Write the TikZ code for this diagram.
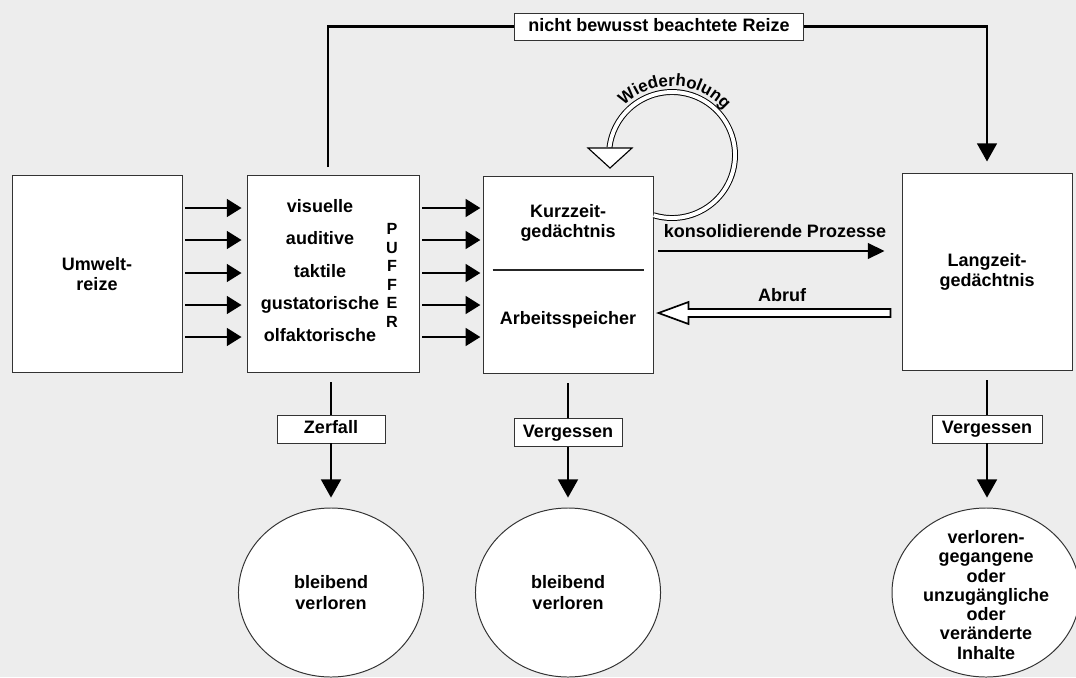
\documentclass[tikz,border=0pt]{standalone}
\usepackage{fontspec}
\setmainfont{Liberation Sans}
\usepackage{tikz}
\usetikzlibrary{arrows.meta,calc,shapes.geometric,decorations.text}

\newcommand\schrift{\bfseries\fontsize{12.8}{14.5}\selectfont}

\tikzset{
  kasten/.style={draw=black!80, line width=0.7pt, fill=white, inner sep=0pt, align=center, font=\schrift},
  marke/.style={draw=black!80, line width=0.7pt, fill=white, inner sep=0pt, text height=9.2pt, text depth=2.7pt, font=\schrift},
  wort/.style={inner sep=0pt, text height=9.2pt, text depth=2.7pt, font=\schrift},
  topf/.style={draw=black!80, line width=0.7pt, fill=white, ellipse, inner sep=0pt, align=center, font=\schrift, minimum width=131.6pt, minimum height=120.2pt},
  pfeil/.style={line width=2pt, -{Triangle[length=10.5pt, width=12.5pt]}},
  dickpfeil/.style={line width=2pt, -{Triangle[length=13pt, width=14pt]}},
  strich/.style={line width=2pt},
}

\begin{document}
\begin{tikzpicture}[x=0.025cm, y=-0.025cm]
  \fill[black!7] (0, 0) rectangle (1076, 677);
  \useasboundingbox (0, 0) rectangle (1076, 677);

  % Kaesten
  \node (umwelt) at (97, 274) [kasten, minimum width=120.9pt, minimum height=139.4pt] {Umwelt-\\reize};
  \node (puffer) at (333, 273.5) [kasten, minimum width=122.3pt, minimum height=140.1pt] {};
  \node (kzg) at (568, 274.5) [kasten, minimum width=120.9pt, minimum height=140.1pt] {};
  \node (lzg) at (987, 272) [kasten, minimum width=120.9pt, minimum height=139.4pt] {Langzeit-\\gedächtnis};

  \node (visuell) at (320, 208) [wort] {visuelle};
  \node (auditiv) at (320, 240) [wort] {auditive};
  \node (taktil) at (320, 273) [wort] {taktile};
  \node (gustatorisch) at (320, 305) [wort] {gustatorische};
  \node (olfaktorisch) at (320, 337) [wort] {olfaktorische};
  \node (pufferwort) at (392, 275.5) [align=center, inner sep=0pt, font=\bfseries\fontsize{11.5}{13.2}\selectfont] {P\\U\\F\\F\\E\\R};

  \node (kurzzeit) at (568, 223) [align=center, inner sep=0pt, font=\schrift] {Kurzzeit-\\gedächtnis};
  \node (arbeit) at (568, 320) [wort] {Arbeitsspeicher};
  \draw[line width=0.8pt, black!85] ($(kzg.west |- 0,270)+(10,0)$) -- ($(kzg.east |- 0,270)+(-10,0)$);

  \node (reize) at (659, 26.5) [marke, minimum width=204.9pt, minimum height=19.2pt] {nicht bewusst beachtete Reize};
  \node (zerfall) at (331, 429) [marke, minimum width=76.8pt, minimum height=19.9pt] {Zerfall};
  \node (vergessen1) at (568, 432.5) [marke, minimum width=76.8pt, minimum height=20.6pt] {Vergessen};
  \node (vergessen2) at (987, 429) [marke, minimum width=78.2pt, minimum height=19.9pt] {Vergessen};

  \node (verloren1) at (331, 592.5) [topf] {bleibend\\verloren};
  \node (verloren2) at (568, 592.5) [topf] {bleibend\\verloren};
  \node (verloren3) at (986, 592.5) [topf, minimum width=133.7pt] {};
  \node (inhalte) at (986, 595) [align=center, inner sep=0pt, font=\bfseries\fontsize{12.8}{13.7}\selectfont] {verloren-\\gegangene\\oder\\unzugängliche\\oder\\veränderte\\Inhalte};

  % Sinneskanaele
  \draw[pfeil, shorten <=2pt, shorten >=3.5pt] (umwelt.east |- visuell) -- (puffer.west |- visuell);
  \draw[pfeil, shorten <=2pt, shorten >=3.5pt] (umwelt.east |- auditiv) -- (puffer.west |- auditiv);
  \draw[pfeil, shorten <=2pt, shorten >=3.5pt] (umwelt.east |- taktil) -- (puffer.west |- taktil);
  \draw[pfeil, shorten <=2pt, shorten >=3.5pt] (umwelt.east |- gustatorisch) -- (puffer.west |- gustatorisch);
  \draw[pfeil, shorten <=2pt, shorten >=3.5pt] (umwelt.east |- olfaktorisch) -- (puffer.west |- olfaktorisch);
  \draw[pfeil, shorten <=2pt, shorten >=1.5pt] (puffer.east |- visuell) -- (kzg.west |- visuell);
  \draw[pfeil, shorten <=2pt, shorten >=1.5pt] (puffer.east |- auditiv) -- (kzg.west |- auditiv);
  \draw[pfeil, shorten <=2pt, shorten >=1.5pt] (puffer.east |- taktil) -- (kzg.west |- taktil);
  \draw[pfeil, shorten <=2pt, shorten >=1.5pt] (puffer.east |- gustatorisch) -- (kzg.west |- gustatorisch);
  \draw[pfeil, shorten <=2pt, shorten >=1.5pt] (puffer.east |- olfaktorisch) -- (kzg.west |- olfaktorisch);

  % oben herum
  \coordinate (abzweig) at (328, 167);
  \draw[strich] (abzweig) -- (abzweig |- reize.west) -- (reize.west);
  \draw[dickpfeil, shorten >=8.5pt] (reize.east) -- (lzg.north |- reize.east) -- (lzg.north);

  % KZG <-> LZG
  \draw[line width=2pt, -{Triangle[length=12pt, width=11pt]}, shorten <=3.5pt, shorten >=12pt] (kzg.east |- 0,251) -- (lzg.west |- 0,251);
  \node (konsol) at (775, 233) [wort] {konsolidierende Prozesse};
  \coordinate (abrufstart) at ($(lzg.west |- 0,313)+(-11,0)$);
  \coordinate (abrufspitze) at ($(kzg.east |- 0,313)+(5,0)$);
  \draw[line width=1.2pt, fill=white] ($(abrufstart)+(0,-4)$) -- ($(abrufspitze)+(30,-4)$) -- ($(abrufspitze)+(30,-11)$) -- (abrufspitze) -- ($(abrufspitze)+(30,11)$) -- ($(abrufspitze)+(30,4)$) -- ($(abrufstart)+(0,4)$) -- cycle;
  \node (abruf) at (782, 297) [wort] {Abruf};

  % Wiederholung
  \coordinate (schleife) at (672, 155);
  \draw[double=white, double distance=2.8pt, line width=0.7pt] ($(schleife)+(107:63)$) arc (107:-173:63);
  \draw[fill=white, line width=0.8pt] (588, 148) -- (632, 148) -- (610, 168) -- cycle;
  \path[decorate, decoration={text along path, text align=center, text={|\bfseries\fontsize{12}{14}\selectfont|Wiederholung}}] ($(schleife)+(-150:69)$) arc (-150:-25:69);

  % nach unten
  \draw[strich, shorten <=7pt] (puffer.south -| zerfall.north) -- (zerfall.north);
  \draw[dickpfeil, shorten >=7pt] (zerfall.south) -- (verloren1.north);
  \draw[strich, shorten <=7pt] (kzg.south -| vergessen1.north) -- (vergessen1.north);
  \draw[dickpfeil, shorten >=7pt] (vergessen1.south) -- (verloren2.north);
  \draw[strich, shorten <=7pt] (lzg.south -| vergessen2.north) -- (vergessen2.north);
  \draw[dickpfeil, shorten >=7pt] (vergessen2.south) -- (vergessen2.south |- verloren3.north);
\end{tikzpicture}
\end{document}
